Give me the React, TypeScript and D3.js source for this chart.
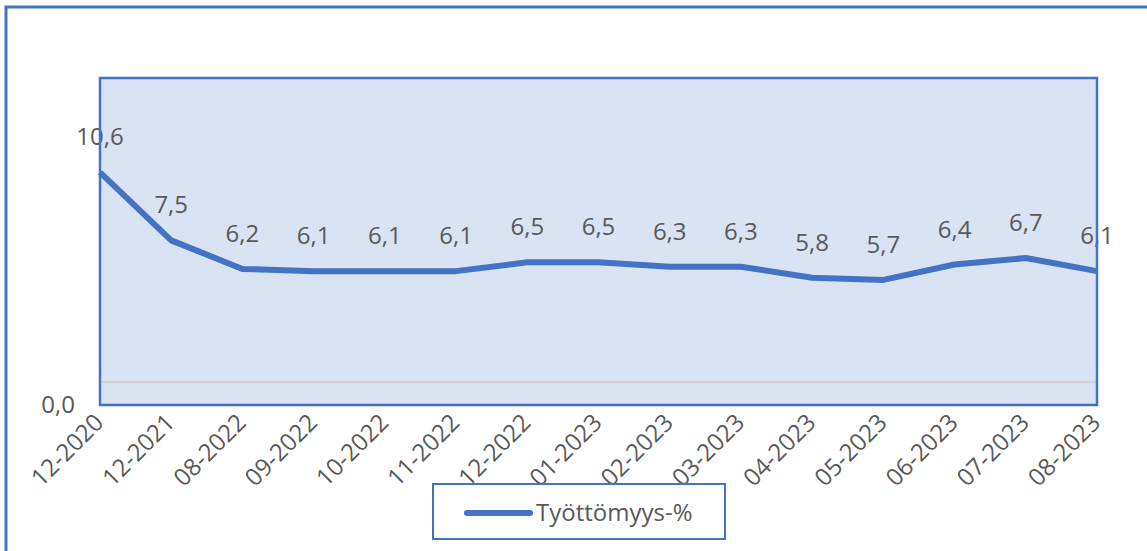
import React, { useEffect, useRef } from 'react';
import * as d3 from 'd3';

const months = [
  '12-2020', '12-2021', '08-2022', '09-2022', '10-2022', '11-2022', '12-2022',
  '01-2023', '02-2023', '03-2023', '04-2023', '05-2023', '06-2023', '07-2023', '08-2023',
];
const rate = [10.6, 7.5, 6.2, 6.1, 6.1, 6.1, 6.5, 6.5, 6.3, 6.3, 5.8, 5.7, 6.4, 6.7, 6.1];
const seriesName = 'Työttömyys-%';
const yTickLabel = '0,0';

const BLUE = '#4472C4';
const TEXT = '#595959';
const FONT = '"Open Sans", sans-serif';

function LineChart() {
  const svgRef = useRef<SVGSVGElement>(null);

  useEffect(() => {
    const svg = d3.select(svgRef.current);
    svg.selectAll('*').remove();

    const width = 1147;
    const height = 551;
    const plot = { left: 100, right: 1097, top: 78, bottom: 405 };

    svg.attr('width', width).attr('height', height);

    // outer chart frame (runs off the right and bottom edge)
    svg.append('rect')
      .attr('x', 6).attr('y', 7)
      .attr('width', 1300).attr('height', 700)
      .attr('fill', '#fff')
      .attr('stroke', BLUE)
      .attr('stroke-width', 3);

    const x = d3.scalePoint()
      .domain(months)
      .range([plot.left, plot.right]);

    const y = d3.scaleLinear()
      .domain([0, 14.9])
      .range([plot.bottom, plot.top]);

    svg.append('rect')
      .attr('x', plot.left).attr('y', plot.top)
      .attr('width', plot.right - plot.left).attr('height', plot.bottom - plot.top)
      .attr('fill', '#DAE3F3');

    svg.append('line')
      .attr('x1', plot.left).attr('x2', plot.right)
      .attr('y1', y(1.05)).attr('y2', y(1.05))
      .attr('stroke', '#D3D3D3')
      .attr('stroke-width', 2.5);

    svg.append('text')
      .attr('x', 75).attr('y', y(0) + 8)
      .attr('text-anchor', 'end')
      .attr('font-family', FONT).attr('font-size', 24)
      .attr('fill', TEXT)
      .text(yTickLabel);

    svg.append('g')
      .selectAll('text')
      .data(months)
      .enter()
      .append('text')
      .attr('transform', (d) => `translate(${x(d)! + 5},${plot.bottom + 19}) rotate(-45)`)
      .attr('text-anchor', 'end')
      .attr('font-family', FONT).attr('font-size', 24)
      .attr('fill', TEXT)
      .text((d) => d);

    const line = d3.line<number>()
      .x((_, i) => x(months[i])!)
      .y((d) => y(d));

    svg.append('path')
      .datum(rate)
      .attr('d', line)
      .attr('fill', 'none')
      .attr('stroke', BLUE)
      .attr('stroke-width', 6)
      .attr('stroke-linejoin', 'round');

    svg.append('g')
      .selectAll('text')
      .data(rate)
      .enter()
      .append('text')
      .attr('x', (_, i) => x(months[i])!)
      .attr('y', (d) => y(d) - 27)
      .attr('text-anchor', 'middle')
      .attr('font-family', FONT).attr('font-size', 24)
      .attr('fill', TEXT)
      .text((d) => d.toFixed(1).replace('.', ','));

    svg.append('rect')
      .attr('x', plot.left).attr('y', plot.top)
      .attr('width', plot.right - plot.left).attr('height', plot.bottom - plot.top)
      .attr('fill', 'none')
      .attr('stroke', BLUE)
      .attr('stroke-width', 2.5);

    // legend
    const legend = svg.append('g').attr('transform', 'translate(433,484)');
    legend.append('rect')
      .attr('width', 292).attr('height', 55)
      .attr('fill', '#fff')
      .attr('stroke', BLUE)
      .attr('stroke-width', 2);
    legend.append('line')
      .attr('x1', 34).attr('x2', 97)
      .attr('y1', 29).attr('y2', 29)
      .attr('stroke', BLUE)
      .attr('stroke-width', 6)
      .attr('stroke-linecap', 'round');
    legend.append('text')
      .attr('x', 103).attr('y', 37)
      .attr('font-family', FONT).attr('font-size', 24)
      .attr('fill', TEXT)
      .text(seriesName);
  }, []);

  return <svg ref={svgRef} style={{ position: 'absolute', left: 0, top: 0 }}></svg>;
}

export default function App() {
  return <LineChart />;
}
